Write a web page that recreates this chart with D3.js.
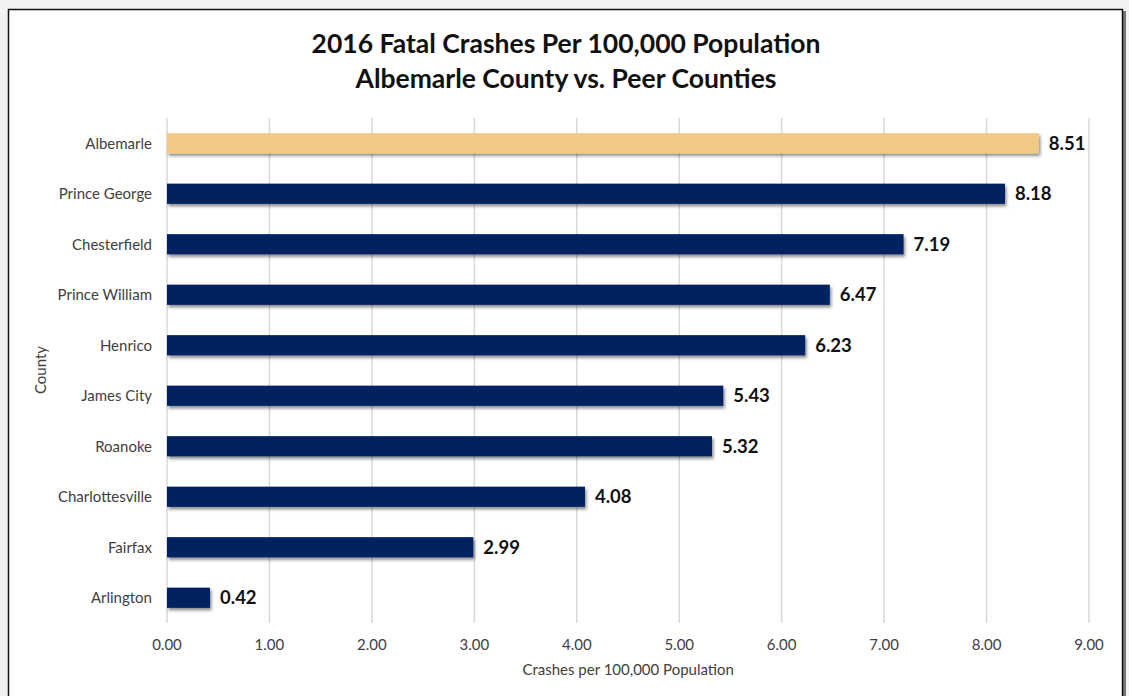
<!DOCTYPE html>
<html lang="en">
<head>
    <meta charset="UTF-8">
    <title>2016 Fatal Crashes Per 100,000 Population</title>
    <script src="https://d3js.org/d3.v7.min.js"></script>
    <style>
        body {
            margin: 0;
            background-color: #f2f2f2;
            font-family: Lato, "Open Sans", sans-serif;
        }
        .grid line {
            stroke: #d9d9d9;
            stroke-width: 1.5px;
        }
        .tick-label {
            font-size: 15px;
            fill: #404040;
        }
        .value-label {
            font-size: 18.5px;
            font-weight: bold;
            fill: #111;
        }
        .title {
            font-size: 26.5px;
            font-weight: bold;
            fill: #111;
            text-anchor: middle;
        }
    </style>
</head>
<body>
    <svg id="chart" width="1129" height="696"></svg>
    <script>
        // Data
        const counties = ["Albemarle", "Prince George", "Chesterfield", "Prince William", "Henrico",
                          "James City", "Roanoke", "Charlottesville", "Fairfax", "Arlington"];
        const rates = [8.51, 8.18, 7.19, 6.47, 6.23, 5.43, 5.32, 4.08, 2.99, 0.42];
        const xTicks = [0, 1, 2, 3, 4, 5, 6, 7, 8, 9];
        const titleLines = ["2016 Fatal Crashes Per 100,000 Population", "Albemarle County vs. Peer Counties"];

        const data = counties.map((c, i) => ({ county: c, rate: rates[i] }));

        const svg = d3.select("#chart");

        // Chart frame
        const defs = svg.append("defs");
        const shadow = defs.append("filter").attr("id", "shadow")
            .attr("x", "-5%").attr("y", "-20%").attr("width", "115%").attr("height", "160%");
        shadow.append("feDropShadow")
            .attr("dx", 1.5).attr("dy", 2.5).attr("stdDeviation", 1.5)
            .attr("flood-color", "#000").attr("flood-opacity", 0.45);

        svg.append("rect")
            .attr("x", 10).attr("y", 11).attr("width", 1116).attr("height", 700)
            .attr("fill", "#777");
        svg.append("rect")
            .attr("x", 8.5).attr("y", 9.5).attr("width", 1114).attr("height", 700)
            .attr("fill", "#fff").attr("stroke", "#111").attr("stroke-width", 1.5);

        const x = d3.scaleLinear().domain([0, 9]).range([167, 1089]);
        const y = d3.scaleBand().domain(counties).range([118, 623]).paddingInner(0.6).paddingOuter(0.3);

        // Gridlines
        svg.append("g").attr("class", "grid")
            .selectAll("line")
            .data(xTicks)
            .enter()
            .append("line")
            .attr("x1", d => x(d)).attr("x2", d => x(d))
            .attr("y1", 118).attr("y2", 623);

        // Bars
        svg.selectAll(".bar")
            .data(data)
            .enter()
            .append("rect")
            .attr("class", "bar")
            .attr("x", x(0))
            .attr("y", d => y(d.county))
            .attr("width", d => x(d.rate) - x(0))
            .attr("height", y.bandwidth())
            .attr("fill", d => d.county === "Albemarle" ? "#f2ca86" : "#002060")
            .attr("filter", "url(#shadow)");

        // Value labels
        svg.selectAll(".value-label")
            .data(data)
            .enter()
            .append("text")
            .attr("class", "value-label")
            .attr("x", d => x(d.rate) + 10)
            .attr("y", d => y(d.county) + y.bandwidth() / 2)
            .attr("dy", "0.36em")
            .text(d => d.rate.toFixed(2));

        // Category labels
        svg.selectAll(".cat-label")
            .data(counties)
            .enter()
            .append("text")
            .attr("class", "tick-label")
            .attr("x", 152)
            .attr("y", d => y(d) + y.bandwidth() / 2)
            .attr("dy", "0.35em")
            .attr("text-anchor", "end")
            .text(d => d);

        // X tick labels
        svg.selectAll(".x-label")
            .data(xTicks)
            .enter()
            .append("text")
            .attr("class", "tick-label")
            .attr("x", d => x(d))
            .attr("y", 650)
            .attr("text-anchor", "middle")
            .text(d => d.toFixed(2));

        // Axis titles
        svg.append("text")
            .attr("class", "tick-label")
            .attr("x", x(5) - 51)
            .attr("y", 675)
            .attr("text-anchor", "middle")
            .text("Crashes per 100,000 Population");

        svg.append("text")
            .attr("class", "tick-label")
            .attr("transform", "translate(46,370) rotate(-90)")
            .attr("text-anchor", "middle")
            .text("County");

        // Title
        svg.selectAll(".title")
            .data(titleLines)
            .enter()
            .append("text")
            .attr("class", "title")
            .attr("x", 566)
            .attr("y", (d, i) => 53 + i * 35)
            .text(d => d);
    </script>
</body>
</html>
